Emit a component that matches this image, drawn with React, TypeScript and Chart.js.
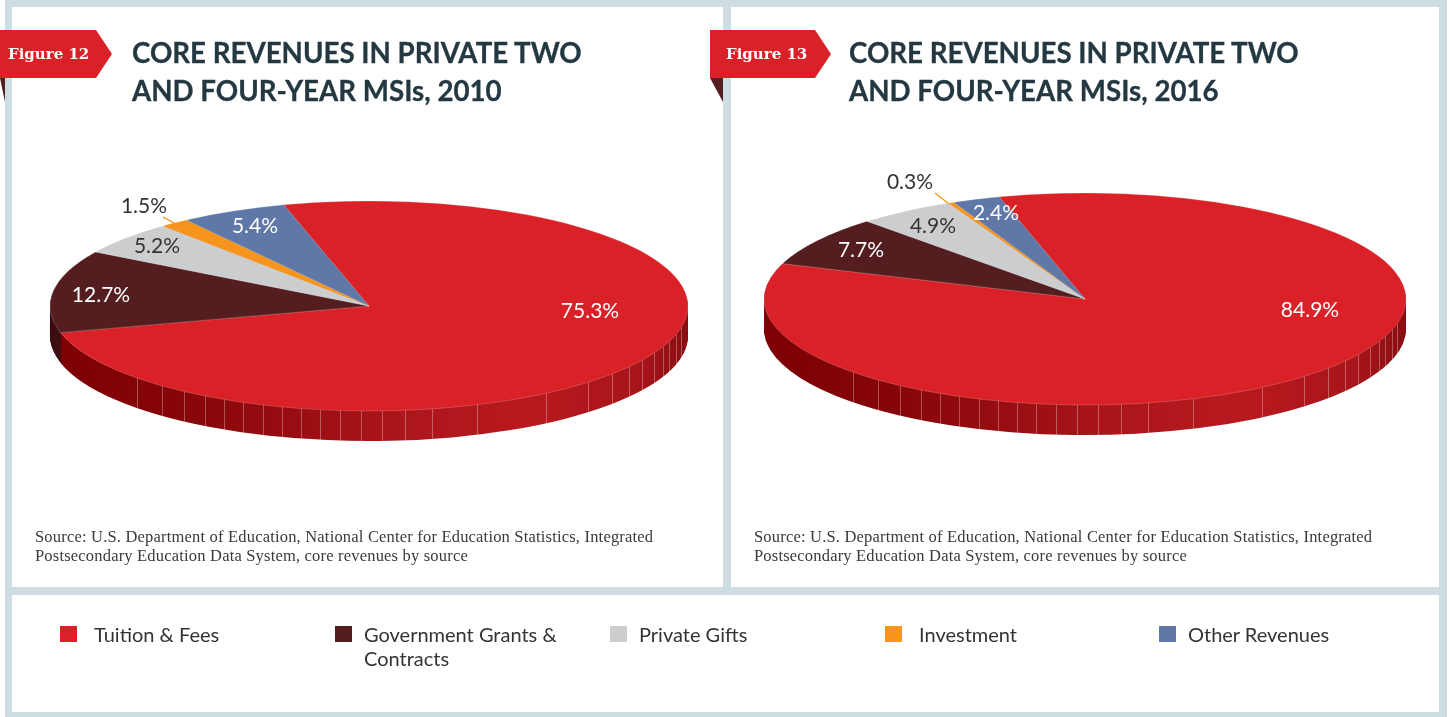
import React, { useEffect, useRef } from "react";
import { Chart, registerables } from "chart.js";

Chart.register(...registerables);

const categories = ["Tuition & Fees", "Government Grants & Contracts", "Private Gifts", "Investment", "Other Revenues"];
const values2010 = [75.3, 12.7, 5.2, 1.5, 5.4];
const values2016 = [84.9, 7.7, 4.9, 0.3, 2.4];
const sliceColors = ["#DA2128", "#541E21", "#CCCDCF", "#F7941E", "#5F78A8"];
const labelColors = ["#ffffff", "#ffffff", "#333333", "#333333", "#ffffff"];
const labelOffsets2010 = [[221, 5], [-268, -11], [-212, -60], [-225, -100], [-114, -80]];
const labelOffsets2016 = [[225, 11], [-224, -49], [-152, -73], [-175, -117], [-89, -86]];
const leader2010 = [[-206, -89], [-195, -83]];
const leader2016 = [[-150, -106], [-136, -95]];
const rimSeams = [-232, -207, -185, -164, -145, -126, -106, -87, -68, -49, -29, -8, 13, 36, 63, 108, 177, 219, 243, 260, 273, 285, 294, 300, 307, 312];

const CANVAS = 700;
const DEPTH = 30;
const BLUE = "#CEDDE2";
const LATO = "Lato, sans-serif";

type PieConfig = {
  values: number[];
  labelOffsets: number[][];
  leader: number[][];
  radiusX: number;
  radiusY: number;
};

function makeRimGradient(ctx: CanvasRenderingContext2D, cx: number, r: number) {
  const g = ctx.createLinearGradient(cx - r, 0, cx + r, 0);
  g.addColorStop(0, "#7E0004");
  g.addColorStop(0.2, "#860508");
  g.addColorStop(0.4, "#9A0E12");
  g.addColorStop(0.55, "#AC161B");
  g.addColorStop(0.75, "#B8191E");
  g.addColorStop(0.92, "#A8151A");
  g.addColorStop(1, "#8A0D11");
  return g;
}

const piePlugin = {
  id: "pie3d",
  beforeDatasetsDraw(chart: any) {
    const cfg: PieConfig = chart.options.plugins.pie3d;
    const ctx: CanvasRenderingContext2D = chart.ctx;
    const arcs = chart.getDatasetMeta(0).data;
    const cx = arcs[0].x;
    const cy = arcs[0].y;
    const k = cfg.radiusY / cfg.radiusX;
    const grad = makeRimGradient(ctx, cx, cfg.radiusX);
    const rimFill = [grad, "#3C0E11", "#8c8d8f", "#a8640f", "#3f5070"];
    for (let d = DEPTH; d >= 1; d--) {
      ctx.save();
      ctx.translate(cx, cy + d);
      ctx.scale(1, k);
      ctx.translate(-cx, -cy);
      arcs.forEach((arc: any, i: number) => {
        const saved = arc.options;
        arc.options = Object.assign({}, saved, { backgroundColor: rimFill[i], borderWidth: 0 });
        arc.draw(ctx);
        arc.options = saved;
      });
      ctx.restore();
    }
    ctx.save();
    ctx.strokeStyle = "rgba(255,255,255,0.3)";
    ctx.lineWidth = 1;
    rimSeams.forEach((dx) => {
      const top = cy + k * Math.sqrt(cfg.radiusX * cfg.radiusX - dx * dx);
      const x = Math.round(cx + dx) + 0.5;
      ctx.beginPath();
      ctx.moveTo(x, top);
      ctx.lineTo(x, top + DEPTH);
      ctx.stroke();
    });
    ctx.restore();
    ctx.save();
    ctx.translate(cx, cy);
    ctx.scale(1, k);
    ctx.translate(-cx, -cy);
  },
  afterDatasetsDraw(chart: any) {
    chart.ctx.restore();
    const cfg: PieConfig = chart.options.plugins.pie3d;
    const ctx: CanvasRenderingContext2D = chart.ctx;
    const arcs = chart.getDatasetMeta(0).data;
    const cx = arcs[0].x;
    const cy = arcs[0].y;
    ctx.save();
    ctx.strokeStyle = sliceColors[3];
    ctx.lineWidth = 1.4;
    ctx.beginPath();
    ctx.moveTo(cx + cfg.leader[0][0], cy + cfg.leader[0][1]);
    ctx.lineTo(cx + cfg.leader[1][0], cy + cfg.leader[1][1]);
    ctx.stroke();
    ctx.font = "21px Lato, sans-serif";
    ctx.textAlign = "center";
    ctx.textBaseline = "middle";
    cfg.values.forEach((v, i) => {
      ctx.fillStyle = labelColors[i];
      ctx.fillText(v.toFixed(1) + "%", cx + cfg.labelOffsets[i][0], cy + cfg.labelOffsets[i][1]);
    });
    ctx.restore();
  },
};

function Pie(props: { values: number[]; labelOffsets: number[][]; leader: number[][]; cx: number; cy: number; rx: number; ry: number }) {
  const ref = useRef<HTMLCanvasElement | null>(null);
  useEffect(() => {
    const chart = new Chart(ref.current as HTMLCanvasElement, {
      type: "pie",
      data: {
        labels: categories,
        datasets: [
          {
            data: props.values,
            backgroundColor: sliceColors,
            borderColor: "rgba(255,255,255,0.35)",
            borderWidth: 0.8,
            radius: props.rx,
          } as any,
        ],
      },
      options: {
        animation: false,
        responsive: false,
        rotation: -15.5,
        layout: { padding: 0 },
        events: [],
        plugins: {
          legend: { display: false },
          tooltip: { enabled: false },
          pie3d: { values: props.values, labelOffsets: props.labelOffsets, leader: props.leader, radiusX: props.rx, radiusY: props.ry },
        } as any,
      },
      plugins: [piePlugin as any],
    });
    return () => chart.destroy();
  }, []);
  return (
    <canvas
      ref={ref}
      width={CANVAS}
      height={CANVAS}
      style={{ position: "absolute", left: props.cx - CANVAS / 2, top: props.cy - CANVAS / 2, width: CANVAS, height: CANVAS }}
    />
  );
}

const abs = (left: number, top: number, width: number, height: number, background: string): React.CSSProperties => ({
  position: "absolute",
  left,
  top,
  width,
  height,
  background,
});

function Panel(props: { x: number; badgeX: number; fig: string; foldPoints: string; year: string; figX: number; titleX: number }) {
  const { x, badgeX, fig, foldPoints, year, figX, titleX } = props;
  return (
    <>
      <div style={{ ...abs(badgeX, 78, 24, 24, "#541E21"), clipPath: foldPoints }} />
      <div style={{ ...abs(badgeX, 30, x + 85 - badgeX + 15, 48, "#DA2128"), clipPath: "polygon(0 0, calc(100% - 16px) 0, 100% 50%, calc(100% - 16px) 100%, 0 100%)" }} />
      <div style={{ position: "absolute", left: figX, top: 45, color: "#fff", font: "bold 15px 'DejaVu Serif', serif", whiteSpace: "nowrap" }}>{fig}</div>
      <div style={{ position: "absolute", left: titleX, top: 34, color: "#243842", font: `bold 27.7px/38px ${LATO}`, WebkitTextStroke: "0.3px #243842", whiteSpace: "nowrap" }}>
        CORE REVENUES IN PRIVATE TWO
        <br />
        AND FOUR-YEAR MSIs, {year}
      </div>
      <div style={{ position: "absolute", left: x + 23, top: 527, color: "#3a3a3a", font: "16.5px/19px 'Liberation Serif', serif", letterSpacing: "0.19px", whiteSpace: "nowrap" }}>
        Source: U.S. Department of Education, National Center for Education Statistics, Integrated
        <br />
        Postsecondary Education Data System, core revenues by source
      </div>
    </>
  );
}

const legendX = [60, 335, 610, 885, 1159];
const legendTextX = [94, 364, 639, 919, 1188];
const legendText = [["Tuition & Fees"], ["Government Grants &", "Contracts"], ["Private Gifts"], ["Investment"], ["Other Revenues"]];

export default function App() {
  return (
    <div style={{ position: "fixed", left: 0, top: 0, width: 1451, height: 717, overflow: "hidden", background: "#fff" }}>
      <div style={abs(5, 0, 1442, 717, BLUE)} />
      <div style={abs(12, 7, 711, 580, "#fff")} />
      <div style={abs(731, 7, 708, 580, "#fff")} />
      <div style={abs(12, 595, 1427, 117, "#fff")} />
      <Pie values={values2010} labelOffsets={labelOffsets2010} leader={leader2010} cx={369} cy={306} rx={319} ry={105} />
      <Pie values={values2016} labelOffsets={labelOffsets2016} leader={leader2016} cx={1085} cy={299} rx={321} ry={106} />
      <Panel x={12} badgeX={0} fig="Figure 12" figX={8} titleX={132} year="2010" foldPoints="polygon(0 0, 5px 0, 5px 24px)" />
      <Panel x={731} badgeX={710} fig="Figure 13" figX={726} titleX={849} year="2016" foldPoints="polygon(0 0, 13px 0, 13px 24px)" />
      {categories.map((c, i) => (
        <React.Fragment key={c}>
          <div style={abs(legendX[i], 626, 17, 16, sliceColors[i])} />
          <div style={{ position: "absolute", left: legendTextX[i], top: 622, color: "#333", font: `20px/24px ${LATO}`, whiteSpace: "nowrap" }}>
            {legendText[i].map((t, j) => (
              <div key={j}>{t}</div>
            ))}
          </div>
        </React.Fragment>
      ))}
    </div>
  );
}
